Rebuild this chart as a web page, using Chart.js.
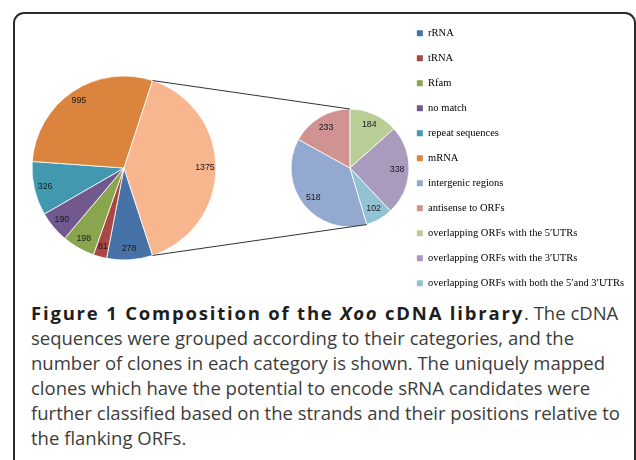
<!DOCTYPE html>
<html>
<head>
<meta charset="utf-8">
<script src="https://cdn.jsdelivr.net/npm/chart.js@4.4.0/dist/chart.umd.min.js"></script>
<style>
  html, body { margin: 0; padding: 0; background: #fff; }
  body { width: 636px; height: 460px; overflow: hidden; position: relative; }
  .frame {
    position: absolute; left: 13px; top: 12px; width: 623px; height: 520px;
    box-sizing: border-box; border: 2px solid #2b2b2b; border-radius: 11px;
  }
  canvas { position: absolute; left: 0; top: 0; }
  .caption {
    position: absolute; left: 31px; top: 300px; white-space: nowrap;
    font-family: "Open Sans", sans-serif; font-size: 18.5px; line-height: 25.1px; color: #3c3c3c;
  }
  .caption b { color: #1e1e1e; letter-spacing: 1.8px; }
</style>
</head>
<body>
<div class="frame"></div>
<div class="caption"><b>Figure 1 Composition of the <i>Xoo</i> cDNA library</b>. The cDNA<br>sequences were grouped according to their categories, and the<br>number of clones in each category is shown. The uniquely mapped<br>clones which have the potential to encode sRNA candidates were<br>further classified based on the strands and their positions relative to<br>the flanking ORFs.</div>
<canvas id="mainPie" width="636" height="323"></canvas>
<canvas id="subPie" width="636" height="323"></canvas>
<script>
// main pie categories
const mainLabels = ['rRNA', 'tRNA', 'Rfam', 'no match', 'repeat sequences', 'mRNA'];
const mainValues = [278, 81, 198, 190, 326, 995];
const mainColors = ['#4672a8', '#aa4643', '#89a54e', '#71588f', '#4198af', '#db843d'];

// secondary pie: split of the uniquely mapped clones
const subLabels = ['intergenic regions', 'antisense to ORFs', 'overlapping ORFs with the 5\u2032UTRs',
  'overlapping ORFs with the 3\u2032UTRs', 'overlapping ORFs with both the 5\u2032and 3\u2032UTRs'];
const subValues = [518, 233, 184, 338, 102];
const subColors = ['#93a9cf', '#d19392', '#b9cd96', '#a99bbd', '#92c3d4'];
const otherColor = '#f8b68e';

const sum = arr => arr.reduce((a, b) => a + b, 0);
const subTotal = sum(subValues);
const mainTotal = sum(mainValues) + subTotal;
const otherSweep = 360 * subTotal / mainTotal;

const legendFont = { family: '"Liberation Serif", "Times New Roman", serif', size: 10.5 };

// value labels inside the slices
const sliceLabels = {
  id: 'sliceLabels',
  afterDatasetsDraw(chart, args, opts) {
    const ctx = chart.ctx;
    const values = chart.data.datasets[0].data;
    ctx.save();
    ctx.font = '8.8px "Liberation Sans", Arial, sans-serif';
    ctx.fillStyle = '#1a1a1a';
    ctx.textAlign = 'center';
    ctx.textBaseline = 'middle';
    chart.getDatasetMeta(0).data.forEach((arc, i) => {
      const p = arc.getProps(['x', 'y', 'startAngle', 'endAngle', 'outerRadius'], true);
      const mid = (p.startAngle + p.endAngle) / 2;
      const r = p.outerRadius * opts.at;
      ctx.fillText(values[i], p.x + Math.cos(mid) * r, p.y + Math.sin(mid) * r);
    });
    ctx.restore();
  }
};

const mainChart = new Chart(document.getElementById('mainPie'), {
  type: 'pie',
  data: {
    labels: [...mainLabels, 'other'],
    datasets: [{
      data: [...mainValues, subTotal],
      backgroundColor: [...mainColors, otherColor],
      borderColor: '#ffffff',
      borderWidth: 0.8,
      radius: 92,
      rotation: 90 + otherSweep / 2
    }]
  },
  options: {
    responsive: false,
    animation: false,
    events: [],
    layout: { padding: { left: 0, right: 388, top: 13.5, bottom: 0.5 } },
    plugins: {
      legend: { display: false },
      tooltip: { enabled: false },
      sliceLabels: { at: 0.88 }
    }
  },
  plugins: [sliceLabels]
});

// lines joining the big slice to the secondary pie
const connectors = {
  id: 'connectors',
  afterDatasetsDraw(chart) {
    const ctx = chart.ctx;
    const big = mainChart.getDatasetMeta(0).data[mainLabels.length]
      .getProps(['x', 'y', 'startAngle', 'endAngle', 'outerRadius'], true);
    const arcs = chart.getDatasetMeta(0).data.map(a =>
      a.getProps(['x', 'y', 'startAngle', 'endAngle', 'outerRadius'], true));
    const pt = (p, ang) => [p.x + Math.cos(ang) * p.outerRadius, p.y + Math.sin(ang) * p.outerRadius];
    const top1 = pt(big, big.startAngle), top2 = pt(arcs[1], arcs[1].endAngle);
    const bot1 = pt(big, big.endAngle), bot2 = pt(arcs[0], arcs[0].startAngle);
    ctx.save();
    ctx.strokeStyle = '#333';
    ctx.lineWidth = 1;
    ctx.beginPath();
    ctx.moveTo(top1[0], top1[1]); ctx.lineTo(top2[0], top2[1]);
    ctx.moveTo(bot1[0], bot1[1]); ctx.lineTo(bot2[0], bot2[1]);
    ctx.stroke();
    ctx.restore();
  }
};

// place the secondary pie: legend sits at the right, pie centred left of it
const measure = document.createElement('canvas').getContext('2d');
measure.font = legendFont.size + 'px ' + legendFont.family;
const longest = Math.max(...[...mainLabels, ...subLabels].map(t => measure.measureText(t).width));
const legendPad = 14.5, boxW = 6, rightPad = 2;
const legendLeft = 636 - rightPad - 10 - (boxW + legendFont.size / 2 + longest) - legendPad;
const subCenterX = 350;

new Chart(document.getElementById('subPie'), {
  type: 'pie',
  data: {
    labels: subLabels,
    datasets: [{
      data: subValues,
      backgroundColor: subColors,
      borderColor: '#ffffff',
      borderWidth: 0.8,
      radius: 59,
      rotation: 360 * (subTotal - subValues[0] - subValues[1]) / subTotal
    }]
  },
  options: {
    responsive: false,
    animation: false,
    events: [],
    layout: { padding: { left: 2 * subCenterX - legendLeft, right: rightPad, top: 13.5, bottom: 0.5 } },
    plugins: {
      tooltip: { enabled: false },
      sliceLabels: { at: 0.8 },
      legend: {
        position: 'right',
        align: 'start',
        maxWidth: 400,
        labels: {
          boxWidth: boxW,
          boxHeight: 6,
          padding: legendPad,
          color: '#222',
          font: legendFont,
          generateLabels: () => [
            ...mainLabels.map((t, i) => ({ text: t, fillStyle: mainColors[i], strokeStyle: mainColors[i], lineWidth: 0, hidden: false })),
            ...subLabels.map((t, i) => ({ text: t, fillStyle: subColors[i], strokeStyle: subColors[i], lineWidth: 0, hidden: false }))
          ]
        }
      }
    }
  },
  plugins: [sliceLabels, connectors]
});
</script>
</body>
</html>
